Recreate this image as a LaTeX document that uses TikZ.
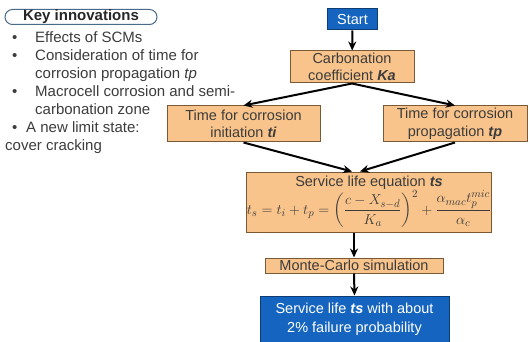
\documentclass[tikz,border=0pt]{standalone}
\usepackage{amsmath}
\usepackage{fontspec}
\setmainfont{Liberation Sans}
\usetikzlibrary{arrows.meta}
\definecolor{boxfill}{HTML}{F9C48B}
\definecolor{boxline}{HTML}{7A5A36}
\definecolor{bluefill}{HTML}{1565C0}
\definecolor{txtgray}{HTML}{3C3C3C}
\definecolor{keyline}{HTML}{4A6A8A}
\newcommand{\vb}[1]{\textbf{\textit{#1}}}

\begin{document}
\begin{tikzpicture}[x=1pt, y=-1pt,
	box/.style={draw=boxline, fill=boxfill, line width=1pt, text=txtgray, align=center, inner sep=0pt, font=\fontsize{14.5}{17.5}\selectfont},
	bluebox/.style={draw=bluefill!60!black, fill=bluefill, line width=1pt, text=white, align=center, inner sep=0pt, font=\fontsize{14.5}{19}\selectfont},
	item/.style={anchor=base west, text=txtgray, inner sep=0pt, font=\fontsize{15}{18}\selectfont},
	arr/.style={-{Stealth[length=9pt,width=8pt]}, line width=2pt}]
	\useasboundingbox (0,0) rectangle (530,342);
	
	\node[draw=keyline, line width=1pt, rounded corners=7.5pt, minimum width=152pt, minimum height=15pt, inner sep=0pt, font=\fontsize{15}{18}\selectfont\bfseries, text=black!85] (key) at (81,17) {Key innovations};
	\node[item] (b1) at (12,43) {\textbullet};
	\node[item] (l1) at (35,43) {Effects of SCMs};
	\node[item] (b2) at (12,61) {\textbullet};
	\node[item] (l2) at (35,61) {Consideration of time for};
	\node[item] (l3) at (35,79) {corrosion propagation \textit{tp}};
	\node[item] (b3) at (12,97) {\textbullet};
	\node[item] (l4) at (35,97) {Macrocell corrosion and semi-};
	\node[item] (l5) at (35,115) {carbonation zone};
	\node[item] (b4) at (12,132) {\textbullet};
	\node[item] (l6) at (26,132) {A new limit state:};
	\node[item] (l7) at (5,150) {cover cracking};
	
	\node[bluebox, minimum width=50pt, minimum height=21pt] (start) at (352.5,19.5) {Start};
	\node[box, minimum width=124pt, minimum height=32pt] (carb) at (352,67) {Carbonation\\coefficient \vb{Ka}};
	\node[box, minimum width=153pt, minimum height=36pt] (init) at (243.5,124) {Time for corrosion\\initiation \vb{ti}};
	\node[box, minimum width=144pt, minimum height=36pt] (prop) at (455,124) {Time for corrosion\\propagation \vb{tp}};
	\node[box, minimum width=244pt, minimum height=60pt] (eq) at (369,202) {Service life equation \vb{ts}\\[0pt]
		{\fontsize{15.5}{15.5}\selectfont$\displaystyle t_s=t_i+t_p=\biggl(\frac{c-X_{s-d}}{K_a}\biggr)^{2}+\frac{\alpha_{mac}t_p^{mic}}{\alpha_c}$}};
	\node[box, minimum width=178pt, minimum height=15pt] (mc) at (354,265.5) {Monte-Carlo simulation};
	\node[bluebox, minimum width=189pt, minimum height=46pt] (fin) at (354.5,319) {Service life \vb{ts} with about\\2\% failure probability};
	
	\draw[arr] (start) -- (carb);
	\draw[arr] (carb.south) -- (init.north);
	\draw[arr] (carb.south) -- (prop.north);
	\draw[arr] (init.south) -- ([xshift=-17pt]eq.north);
	\draw[arr] (prop.south) -- ([xshift=-9pt]eq.north);
	\draw[arr] (mc.north |- eq.south) -- (mc.north);
	\draw[arr] (mc.south) -- (fin.north);
\end{tikzpicture}
\end{document}
